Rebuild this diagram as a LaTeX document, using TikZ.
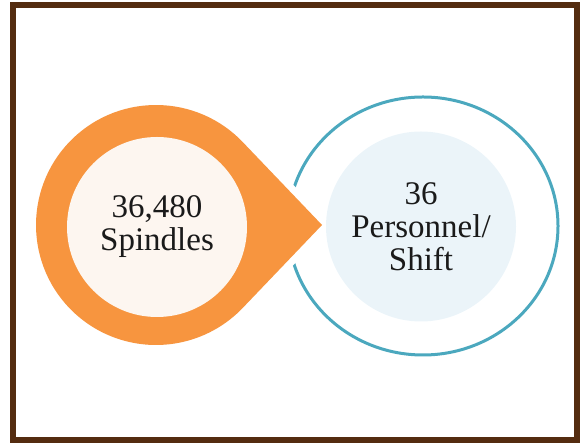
\documentclass[tikz,border=0pt]{standalone}
\usepackage{fontspec}
\setmainfont{Liberation Serif}
\usetikzlibrary{calc}
\definecolor{framebrown}{HTML}{542C10}
\definecolor{droporange}{HTML}{F7953F}
\definecolor{dropinner}{HTML}{FDF6F0}
\definecolor{ringteal}{HTML}{4BA8BE}
\definecolor{bluefill}{HTML}{EBF4F9}
\definecolor{textdark}{HTML}{1A1A1A}
\begin{document}
\begin{tikzpicture}[x=1bp,y=1bp,
  framestyle/.style={draw=framebrown,line width=6bp},
  ringstyle/.style={draw=ringteal,line width=3bp},
  dropstyle/.style={fill=droporange,preaction={draw=white,line width=14bp,line join=round}},
  innercircle/.style={circle,inner sep=0pt,align=center,text=textdark,
    font=\fontsize{33bp}{33bp}\selectfont},
  ]
\useasboundingbox (0,0) rectangle (587,443);
% frame
\draw[framestyle] (13,2.5) rectangle (577,438);
% teal ring
\draw[ringstyle] (423,217) ellipse [x radius=135bp, y radius=129bp];
% orange drop
\coordinate (tip) at (322,218);
\fill[dropstyle] (tip) -- (242.75,300.9) arc[start angle=43.7, end angle=316.3, radius=120bp] -- cycle;
% inner circles with text
\node[innercircle,fill=dropinner,minimum size=180bp] (spindles) at (157,216) {36,480\\Spindles};
\node[innercircle,fill=bluefill,minimum size=190bp] (personnel) at (421,216.5) {36\\Personnel/\\Shift};
\end{tikzpicture}
\end{document}
